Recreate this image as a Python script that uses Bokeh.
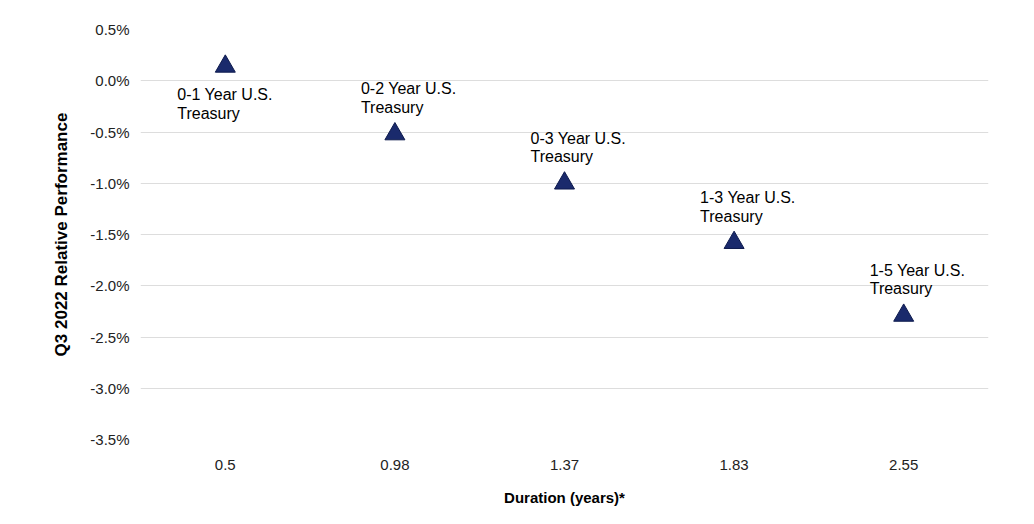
from bokeh.plotting import figure
from bokeh.models import Range1d, NumeralTickFormatter, ColumnDataSource, FactorRange
from bokeh.embed import file_html
from bokeh.resources import INLINE
from bokeh.core.properties import value

durations = ["0.5", "0.98", "1.37", "1.83", "2.55"]
perf = [0.0014, -0.0052, -0.0100, -0.0158, -0.0229]
labels = ["0-1 Year U.S.\nTreasury", "0-2 Year U.S.\nTreasury", "0-3 Year U.S.\nTreasury",
          "1-3 Year U.S.\nTreasury", "1-5 Year U.S.\nTreasury"]

p = figure(width=1018, height=508, x_range=FactorRange(*durations, range_padding=0),
           y_range=Range1d(-0.035, 0.005), output_backend="svg", toolbar_location=None,
           min_border_left=140, min_border_right=30, min_border_top=29, min_border_bottom=66)
p.outline_line_color = None
p.xgrid.grid_line_color = None
p.ygrid.grid_line_color = "#dddddd"
p.yaxis.ticker = [0.005, 0, -0.005, -0.01, -0.015, -0.02, -0.025, -0.03, -0.035]
p.yaxis.formatter = NumeralTickFormatter(format="0.0%")
for ax in (p.xaxis[0], p.yaxis[0]):
    ax.axis_line_color = None
    ax.major_tick_line_color = None
    ax.minor_tick_line_color = None
    ax.major_label_text_font = "Liberation Sans"
    ax.major_label_text_font_size = "15px"
    ax.major_label_text_color = "#222222"
    ax.axis_label_text_font = "Liberation Sans"
    ax.axis_label_text_font_style = "bold"
    ax.axis_label_text_font_size = "15px"
    ax.axis_label_text_color = "#000000"
p.yaxis.axis_label_text_font_size = "17px"
p.xaxis.axis_label = "Duration (years)*"
p.yaxis.axis_label = "Q3 2022 Relative Performance"
p.xaxis.major_label_standoff = 14
p.xaxis.axis_label_standoff = 16
p.yaxis.axis_label_standoff = 16

src = ColumnDataSource(dict(x=durations, y=perf, t=labels))
p.scatter("x", "y", source=src, marker="triangle", size=20, fill_color="#1a2a6c",
          line_color="#0d1a4d")

first = ColumnDataSource(dict(x=durations[:1], y=perf[:1], t=labels[:1]))
rest = ColumnDataSource(dict(x=durations[1:], y=perf[1:], t=labels[1:]))
p.text("x", "y", text="t", source=first, x_offset=-48, y_offset=20,
       text_baseline="top", text_font=value("Liberation Sans"), text_font_size="16px",
       text_color="#000000", text_line_height=1.1)
p.text("x", "y", text="t", source=rest, x_offset=-34, y_offset=-18,
       text_baseline="bottom", text_font=value("Liberation Sans"), text_font_size="16px",
       text_color="#000000", text_line_height=1.1)

open("out.html", "w").write(file_html(p, INLINE))
